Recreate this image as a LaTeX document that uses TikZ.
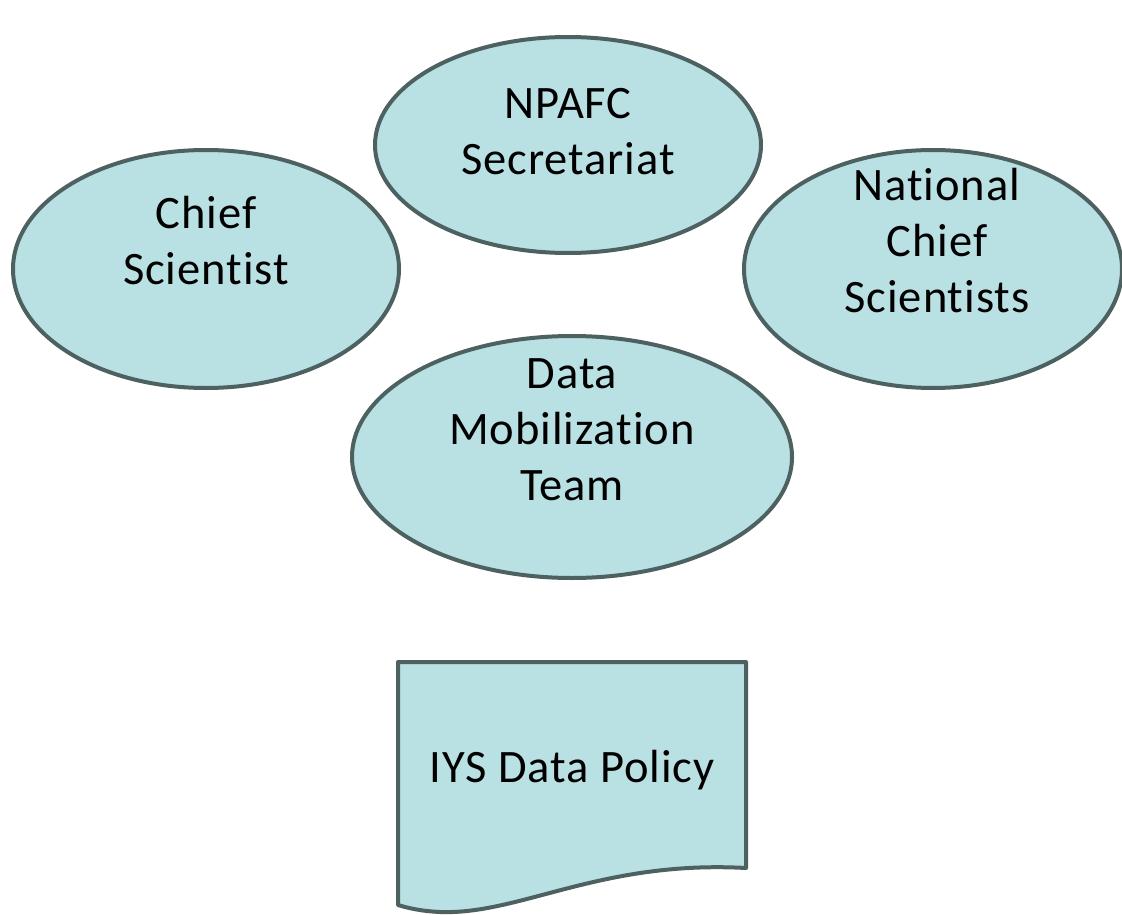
\documentclass[tikz,border=0pt]{standalone}
\usepackage{fontspec}
\setmainfont{Carlito}[Ligatures=NoCommon, LetterSpace=2]
\usetikzlibrary{shapes.geometric}
\definecolor{fillc}{HTML}{B9E0E3}
\definecolor{linec}{HTML}{4E6161}
\tikzset{
  oval/.style={ellipse, draw=linec, fill=fillc, line width=4pt, inner sep=0pt},
  lbl/.style={align=center, font=\fontsize{46.5}{56}\selectfont, text=black, inner sep=0pt},
}
\begin{document}
\begin{tikzpicture}[x=1pt,y=-1pt]
\useasboundingbox (0,0) rectangle (1122,915);
\begin{scope}
\clip (0,0) rectangle (1122,915);
\node[oval, minimum width=386pt, minimum height=216pt] (npafc) at (568,145) {};
\node[oval, minimum width=386pt, minimum height=238pt] (chief) at (206,269) {};
\node[oval, minimum width=378pt, minimum height=238pt] (nat) at (933,269) {};
\node[oval, minimum width=440pt, minimum height=242pt] (dmt) at (572,457) {};
\end{scope}
\node[lbl] (tnpafc) at (568,132) {NPAFC\\Secretariat};
\node[lbl] (tchief) at (206,241) {Chief\\Scientist};
\node[lbl] (tnat) at (937,241) {National\\Chief\\Scientists};
\node[lbl] (tdmt) at (572,430) {Data\\Mobilization\\Team};
\draw[draw=linec, fill=fillc, line width=4pt, line join=round]
  (398,662) -- (746,662) -- (746,868)
  .. controls (600,860) and (520,915) .. (440,912)
  .. controls (420,911) and (408,908) .. (398,905) -- cycle;
\node[lbl] (policy) at (572,770) {IYS Data Policy};
\end{tikzpicture}
\end{document}
